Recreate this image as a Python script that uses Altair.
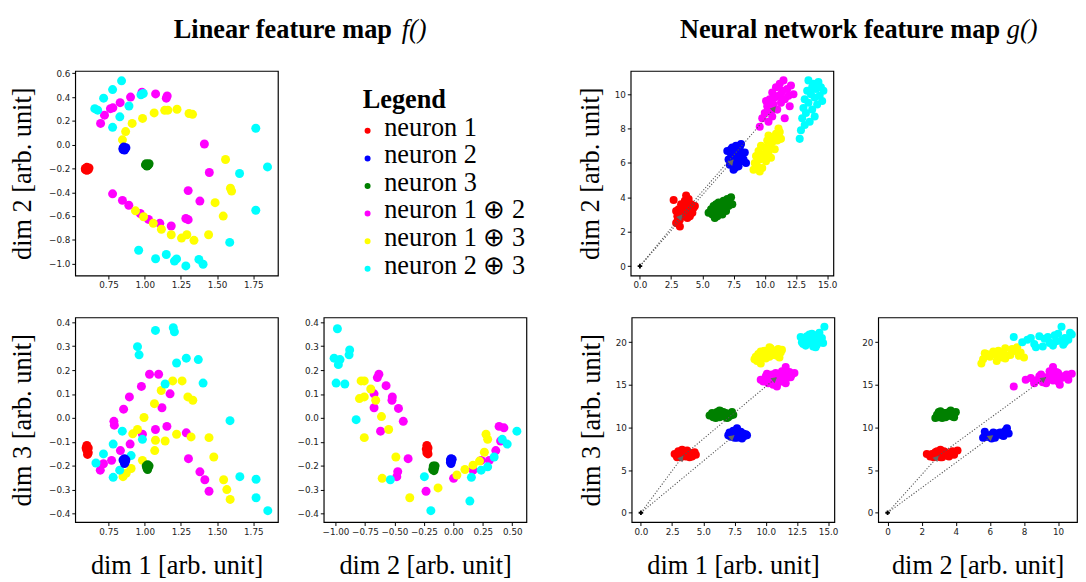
import math
import altair as alt
import pandas as pd

GROUPS = ["neuron 1", "neuron 2", "neuron 3", "neuron 1 ⊕ 2", "neuron 1 ⊕ 3", "neuron 2 ⊕ 3"]
COLORS = ["#ff0000", "#0000ff", "#008000", "#ff00ff", "#ffff00", "#00ffff"]

# ---------------- Linear feature map f(): dim 1 vs dim 2 ----------------
lin12_n1 = [(0.59, -0.20), (0.61, -0.21), (0.60, -0.19), (0.615, -0.195), (0.60, -0.215), (0.59, -0.21)]
lin12_n2 = [(0.85, -0.03), (0.865, -0.035), (0.855, -0.02), (0.86, -0.045), (0.87, -0.025), (0.85, -0.04)]
lin12_n3 = [(1.01, -0.16), (1.025, -0.17), (1.015, -0.18), (1.03, -0.16), (1.02, -0.175), (1.005, -0.17)]
lin12_n12 = [(0.695, 0.179), (0.722, 0.248), (0.763, 0.303), (0.78, 0.31), (0.830, 0.353), (0.902, 0.400),
             (0.981, 0.441), (1.075, 0.427), (1.149, 0.391), (1.155, 0.41), (1.412, 0.006), (1.446, -0.234),
             (1.300, -0.386), (1.381, -0.474), (1.284, -0.620), (1.30, -0.63), (0.778, -0.413), (0.846, -0.468),
             (0.890, -0.509), (0.969, -0.578), (1.026, -0.628), (1.104, -0.661), (1.183, -0.683)]
lin12_n13 = [(0.846, 0.041), (0.868, 0.110), (0.913, 0.179), (0.985, 0.221), (1.065, 0.267), (1.138, 0.289),
             (1.16, 0.29), (1.223, 0.298), (1.306, 0.262), (1.33, 0.255), (1.558, -0.124), (1.592, -0.366),
             (1.60, -0.39), (1.486, -0.487), (1.542, -0.600), (1.441, -0.757), (1.340, -0.804), (1.291, -0.757),
             (1.254, -0.785), (1.183, -0.757), (1.115, -0.711), (1.059, -0.661), (0.992, -0.606), (0.936, -0.556)]
lin12_n23 = [(0.84, 0.537), (0.778, 0.463), (0.716, 0.391), (0.655, 0.303), (0.675, 0.29), (0.778, 0.146),
             (0.828, 0.234), (0.891, 0.325), (0.974, 0.419), (0.99, 0.43), (1.767, 0.138), (1.848, -0.187),
             (1.655, -0.242), (1.767, -0.551), (1.587, -0.821), (0.958, -0.887), (1.075, -0.959), (1.149, -0.923),
             (1.205, -0.978), (1.22, -0.96), (1.284, -1.019), (1.374, -0.964), (1.403, -1.005)]

# ---------------- Linear feature map f(): dim 1 vs dim 3 ----------------
lin13_n1 = [(0.60, -0.115), (0.61, -0.125), (0.60, -0.135), (0.61, -0.145), (0.605, -0.152), (0.595, -0.125)]
lin13_n2 = [(0.86, -0.17), (0.865, -0.185), (0.855, -0.18), (0.87, -0.175), (0.86, -0.19), (0.85, -0.175)]
lin13_n3 = [(1.01, -0.20), (1.025, -0.205), (1.02, -0.215), (1.03, -0.20), (1.015, -0.21), (1.02, -0.195)]
lin13_n12 = [(1.033, 0.183), (1.096, 0.183), (0.977, 0.132), (0.894, 0.088), (0.854, 0.037), (0.787, -0.014),
             (0.79, -0.03), (1.175, 0.101), (1.119, 0.043), (1.153, -0.035), (1.074, -0.048), (0.984, -0.068),
             (1.287, -0.062), (0.899, -0.109), (0.832, -0.136), (0.771, -0.177), (0.715, -0.191), (0.693, -0.218),
             (1.302, -0.170), (1.381, -0.225), (1.415, -0.258), (1.444, -0.306)]
lin13_n13 = [(1.193, 0.155), (1.258, 0.155), (1.114, 0.115), (1.067, 0.060), (1.298, 0.088), (1.332, 0.074),
             (0.995, 0.002), (0.950, -0.048), (0.917, -0.066), (1.220, -0.068), (1.320, -0.079), (1.074, -0.093),
             (1.141, -0.096), (1.444, -0.082), (1.069, -0.136), (1.477, -0.163), (0.984, -0.177), (0.906, -0.211),
             (0.872, -0.231), (0.850, -0.245), (1.545, -0.258), (1.567, -0.299), (1.590, -0.340)]
lin13_n23 = [(1.074, 0.366), (1.197, 0.377), (1.205, 0.36), (0.950, 0.298), (0.961, 0.264), (1.220, 0.230),
             (1.287, 0.250), (1.370, 0.244), (1.403, 0.146), (1.141, 0.142), (1.589, -0.011), (0.845, -0.055),
             (0.984, -0.089), (0.782, -0.109), (0.715, -0.150), (0.663, -0.188), (0.782, -0.248), (0.827, -0.218),
             (0.906, -0.157), (1.657, -0.245), (1.769, -0.256), (1.769, -0.333), (1.850, -0.387)]

# ---------------- Linear feature map f(): dim 2 vs dim 3 ----------------
lin23_n1 = [(-0.225, -0.115), (-0.215, -0.125), (-0.22, -0.14), (-0.215, -0.15), (-0.225, -0.145), (-0.23, -0.13)]
lin23_n2 = [(-0.02, -0.17), (-0.025, -0.185), (-0.015, -0.18), (-0.02, -0.19), (-0.025, -0.175), (-0.01, -0.172)]
lin23_n3 = [(-0.17, -0.20), (-0.16, -0.21), (-0.175, -0.215), (-0.165, -0.22), (-0.17, -0.205), (-0.155, -0.2)]
lin23_n12 = [(-0.632, 0.183), (-0.645, 0.169), (-0.571, 0.135), (-0.518, 0.088), (-0.521, 0.074), (-0.466, 0.040),
             (-0.425, -0.014), (-0.673, 0.101), (-0.673, 0.043), (-0.618, -0.055), (-0.384, -0.170), (-0.472, -0.224),
             (-0.480, -0.245), (-0.232, -0.306), (0.002, -0.252), (0.167, -0.218), (0.236, -0.177), (0.305, -0.177),
             (0.360, -0.136), (0.388, -0.035), (0.429, -0.041), (0.401, -0.096)]
lin23_n13 = [(-0.783, 0.155), (-0.756, 0.155), (-0.701, 0.121), (-0.797, 0.081), (-0.756, 0.088), (-0.659, 0.074),
             (-0.610, 0.006), (-0.756, -0.082), (-0.549, -0.048), (-0.488, -0.163), (-0.604, -0.252), (-0.370, -0.333),
             (-0.130, -0.292), (0.030, -0.238), (0.098, -0.215), (0.167, -0.197), (0.222, -0.180), (0.263, -0.143),
             (0.277, -0.068), (0.291, -0.089)]
lin23_n23 = [(-0.984, 0.373), (-0.880, 0.284), (-0.885, 0.264), (-1.012, 0.250), (-0.962, 0.244), (-0.976, 0.223),
             (-0.995, 0.146), (-0.921, 0.142), (-0.825, -0.007), (-0.535, -0.258), (-0.246, -0.245), (-0.191, -0.387),
             (0.140, -0.347), (0.153, -0.248), (0.236, -0.218), (0.291, -0.204), (0.346, -0.163), (0.415, -0.089),
             (0.457, -0.109), (0.539, -0.055)]

# ---------------- Neural network feature map g(): (dim 1, dim 2, dim 3) ----------------
nn_n1 = [(2.7, 3.85, 6.9), (2.9, 2.5, 6.6), (3.0, 2.9, 7.2), (3.1, 3.3, 6.8), (3.2, 2.7, 6.5), (3.3, 3.1, 7.4),
         (3.3, 3.6, 6.9), (3.4, 2.9, 6.7), (3.5, 3.4, 7.0), (3.6, 3.0, 6.6), (3.6, 3.8, 7.2), (3.7, 3.2, 6.9),
         (3.8, 3.5, 6.7), (3.8, 2.8, 7.1), (3.9, 3.9, 6.8), (4.0, 3.3, 7.0), (4.1, 3.6, 6.6), (4.2, 3.1, 6.9),
         (4.3, 3.4, 7.1), (4.4, 3.5, 6.8), (3.2, 2.3, 6.9), (3.7, 4.1, 7.3), (2.9, 3.2, 6.5), (4.0, 2.9, 6.7),
         (3.4, 3.3, 7.2), (3.0, 2.6, 6.9), (3.9, 3.1, 6.5)]
nn_n2 = [(7.0, 6.7, 9.1), (7.1, 6.2, 9.4), (7.2, 5.9, 8.9), (7.3, 6.5, 9.2), (7.4, 6.9, 9.6), (7.5, 6.1, 9.0),
         (7.5, 5.6, 8.8), (7.6, 6.4, 9.3), (7.7, 7.0, 9.9), (7.8, 6.0, 9.1), (7.8, 6.6, 9.4), (7.9, 5.8, 8.9),
         (8.0, 6.3, 9.2), (8.0, 6.9, 9.5), (8.1, 6.1, 8.7), (8.2, 6.5, 9.3), (8.3, 6.2, 9.0), (8.4, 6.6, 9.2),
         (8.5, 6.0, 9.1), (7.3, 6.8, 9.0), (7.6, 5.7, 9.5), (8.1, 7.1, 9.3), (7.7, 6.3, 8.8)]
nn_n3 = [(5.5, 3.1, 11.4), (5.7, 3.3, 11.7), (5.8, 3.0, 11.2), (5.9, 3.5, 11.6), (6.0, 3.2, 11.3), (6.1, 3.6, 11.8),
         (6.2, 2.9, 11.5), (6.3, 3.4, 11.2), (6.4, 3.1, 11.9), (6.5, 3.6, 11.4), (6.6, 3.3, 11.6), (6.7, 3.8, 11.3),
         (6.8, 3.4, 11.7), (6.9, 3.6, 11.5), (7.0, 3.9, 11.2), (7.1, 3.5, 11.6), (7.2, 3.7, 11.4), (7.3, 4.0, 11.8),
         (7.4, 3.6, 11.5), (6.0, 2.8, 11.1), (6.3, 3.7, 12.0), (6.9, 3.2, 11.1), (6.6, 3.0, 11.8)]
nn_n12 = [(9.6, 8.1, 15.6), (9.8, 8.6, 15.4), (10.0, 8.9, 16.0), (10.2, 9.3, 15.2), (10.3, 8.4, 15.8),
          (10.4, 9.7, 15.5), (10.5, 9.0, 16.2), (10.6, 10.1, 15.0), (10.7, 9.4, 15.7), (10.8, 9.8, 16.4),
          (10.9, 10.4, 15.9), (11.0, 9.1, 15.3), (11.1, 9.9, 16.1), (11.2, 10.6, 15.6), (11.3, 9.5, 16.6),
          (11.4, 10.2, 15.8), (11.5, 10.8, 16.3), (11.6, 9.7, 17.1), (11.8, 10.3, 16.0), (11.9, 9.9, 16.5),
          (12.1, 10.5, 16.2), (12.3, 10.0, 16.4), (10.9, 7.4, 14.8), (11.6, 8.6, 15.2), (12.0, 9.3, 15.9),
          (10.1, 9.6, 16.3), (10.6, 8.7, 15.5), (11.3, 10.0, 15.4)]
nn_n13 = [(9.1, 5.6, 18.0), (9.2, 6.0, 18.3), (9.3, 6.4, 17.8), (9.4, 5.8, 18.6), (9.5, 6.7, 18.2), (9.6, 6.2, 18.9),
          (9.7, 7.0, 18.4), (9.8, 5.7, 18.7), (9.9, 6.5, 19.0), (10.0, 6.9, 18.1), (10.1, 6.1, 18.6),
          (10.2, 7.3, 18.9), (10.3, 6.6, 18.3), (10.4, 6.9, 19.3), (10.5, 6.3, 18.8), (10.6, 7.2, 18.5),
          (10.7, 7.5, 19.0), (10.8, 6.8, 18.7), (10.9, 7.7, 18.4), (11.0, 7.3, 19.2), (11.2, 7.8, 18.8),
          (11.3, 7.4, 19.1), (9.6, 5.5, 17.5), (10.3, 7.6, 19.4), (11.1, 8.0, 18.2), (10.0, 6.4, 18.5)]
nn_n23 = [(12.8, 7.4, 20.6), (12.9, 7.9, 20.0), (13.0, 8.6, 19.8), (13.1, 9.2, 20.4), (13.2, 9.7, 19.6),
          (13.3, 8.9, 20.7), (13.4, 10.2, 20.2), (13.5, 9.5, 19.9), (13.6, 8.4, 20.5), (13.7, 10.0, 21.0),
          (13.8, 9.1, 19.5), (13.9, 10.6, 20.3), (14.0, 9.8, 20.8), (14.1, 10.3, 19.7), (14.2, 9.4, 20.6),
          (14.3, 10.7, 21.1), (14.4, 9.9, 20.1), (14.5, 10.4, 20.5), (14.7, 10.2, 21.8), (13.5, 10.8, 20.9),
          (14.0, 8.7, 19.4), (13.2, 8.2, 20.3), (14.6, 9.6, 19.9), (13.8, 10.4, 20.0)]

# vector-addition arrows (start -> end) in (dim 1, dim 2, dim 3)
arrow_start = [(0.0, 0.0, 0.0), (0.0, 0.0, 0.0), (3.4, 3.0, 6.7)]
arrow_end = [(3.4, 3.0, 6.7), (7.5, 6.2, 9.1), (10.9, 9.3, 15.9)]

TITLE_LEFT = "Linear feature map"
TITLE_RIGHT = "Neural network feature map"
LEGEND_TITLE = "Legend"
AXIS_TITLE = "[arb. unit]"

SERIF = "Liberation Serif"


def table2d(pairs):
    rows = []
    for g, pts in pairs:
        for x, y in pts:
            rows.append({"x": x, "y": y, "g": g})
    return pd.DataFrame(rows)


def table3d(i, j):
    rows = []
    for g, pts in zip(GROUPS, [nn_n1, nn_n2, nn_n3, nn_n12, nn_n13, nn_n23]):
        for p in pts:
            rows.append({"x": p[i], "y": p[j], "g": g})
    return pd.DataFrame(rows)


def text_layer(t, x, y, **kw):
    return alt.Chart(pd.DataFrame({"t": [t]})).mark_text(**kw).encode(
        x=alt.value(x), y=alt.value(y), text="t:N")


def panel(df, xdom, ydom, xticks, yticks, xfmt, yfmt, xtitle, ytitle, ytpad, w, h, size, arrows=None, extra=()):
    xa = dict(values=xticks, format=xfmt, labelFlush=False, labelOverlap=False, titlePadding=17, title=xtitle)
    ya = dict(values=yticks, format=yfmt, labelFlush=False, labelOverlap=False, titlePadding=ytpad, title=ytitle)
    X = alt.X("x:Q", scale=alt.Scale(domain=xdom, nice=False, zero=False), axis=alt.Axis(**xa))
    Y = alt.Y("y:Q", scale=alt.Scale(domain=ydom, nice=False, zero=False), axis=alt.Axis(**ya))
    pts = alt.Chart(df).mark_circle(size=size, opacity=1).encode(
        x=X, y=Y,
        color=alt.Color("g:N", scale=alt.Scale(domain=GROUPS, range=COLORS), legend=None))
    layers = [pts]
    if arrows is not None:
        i, j = arrows
        sx = w / (xdom[1] - xdom[0])
        sy = h / (ydom[1] - ydom[0])
        rows, heads = [], []
        for s, e in zip(arrow_start, arrow_end):
            x0, y0, x1, y1 = s[i], s[j], e[i], e[j]
            dxp, dyp = (x1 - x0) * sx, (y1 - y0) * sy
            L = math.hypot(dxp, dyp)
            ang = math.degrees(math.atan2(dxp, dyp)) % 360
            back = 3.0
            rows.append({"x": x0, "y": y0, "x2": x1, "y2": y1})
            heads.append({"x": x1 - dxp / L * back / sx, "y": y1 - dyp / L * back / sy, "ang": ang})
        layers.append(alt.Chart(pd.DataFrame(rows)).mark_rule(
            color="#555555", strokeWidth=1.1, strokeDash=[1.2, 1.8]).encode(x=X, y=Y, x2="x2:Q", y2="y2:Q"))
        layers.append(alt.Chart(pd.DataFrame(heads)).mark_point(
            shape="triangle-up", filled=True, color="#666666", size=45, opacity=1).encode(
            x=X, y=Y, angle=alt.Angle("ang:Q", scale=None)))
        layers.append(alt.Chart(pd.DataFrame({"x": [0.0], "y": [0.0]})).mark_point(
            shape="cross", filled=True, color="black", size=22, opacity=1).encode(x=X, y=Y))
    layers.extend(extra)
    return alt.layer(*layers).properties(width=w, height=h)


def left_pairs(n1, n2, n3, n12, n13, n23):
    return [(GROUPS[3], n12), (GROUPS[4], n13), (GROUPS[5], n23),
            (GROUPS[0], n1), (GROUPS[1], n2), (GROUPS[2], n3)]


TITLE_Y = -34

# legend and headings (drawn as text in the top-left / top-right panels)
legend_layers = [text_layer(LEGEND_TITLE, 295, 38, align="left", baseline="alphabetic", font=SERIF,
                            fontSize=27, fontWeight="bold", color="black")]
for k, (g, c) in enumerate(zip(GROUPS, COLORS)):
    yy = 61.5 + 28.3 * k
    legend_layers.append(alt.Chart(pd.DataFrame({"t": [g]})).mark_circle(size=38, opacity=1, color=c).encode(
        x=alt.value(300), y=alt.value(yy)))
    legend_layers.append(text_layer(g, 317, yy + 5, align="left", baseline="alphabetic", font=SERIF,
                                    fontSize=27, color="black"))
legend_layers.append(text_layer(TITLE_LEFT, 325, TITLE_Y, align="right", baseline="alphabetic", font=SERIF,
                                fontSize=27, fontWeight="bold", color="black"))
legend_layers.append(text_layer("f()", 335, TITLE_Y, align="left", baseline="alphabetic", font=SERIF,
                                fontSize=27, fontStyle="italic", color="black"))

right_title = [
    text_layer(TITLE_RIGHT, 379, TITLE_Y, align="right", baseline="alphabetic", font=SERIF,
               fontSize=27, fontWeight="bold", color="black"),
    text_layer("g()", 386, TITLE_Y, align="left", baseline="alphabetic", font=SERIF,
               fontSize=27, fontStyle="italic", color="black"),
]

W, H = 208, 210
LIN_D1 = [0.52, 1.92]
LIN_D2 = [-1.1, 0.62]
LIN_D3 = [-0.435, 0.42]
NN_D1 = [-0.74, 15.5]
NN_D2 = [-0.55, 11.35]
NN_D3 = [-1.1, 22.9]

t_lin_d1 = [0.75, 1.0, 1.25, 1.5, 1.75]
t_lin_d2x = [-1.0, -0.75, -0.5, -0.25, 0.0, 0.25, 0.5]
t_lin_d2y = [-1.0, -0.8, -0.6, -0.4, -0.2, 0.0, 0.2, 0.4, 0.6]
t_lin_d3 = [-0.4, -0.3, -0.2, -0.1, 0.0, 0.1, 0.2, 0.3, 0.4]
t_nn_d1 = [0.0, 2.5, 5.0, 7.5, 10.0, 12.5, 15.0]
t_nn_d2 = [0, 2, 4, 6, 8, 10]
t_nn_d3 = [0, 5, 10, 15, 20]

LSIZE = 85
RSIZE = 68

TL = panel(table2d(left_pairs(lin12_n1, lin12_n2, lin12_n3, lin12_n12, lin12_n13, lin12_n23)),
           LIN_D1, LIN_D2, t_lin_d1, t_lin_d2y, ".2f", ".1f", None, "dim 2 " + AXIS_TITLE, 13, W, H, LSIZE,
           extra=legend_layers)
BL1 = panel(table2d(left_pairs(lin13_n1, lin13_n2, lin13_n3, lin13_n12, lin13_n13, lin13_n23)),
            LIN_D1, LIN_D3, t_lin_d1, t_lin_d3, ".2f", ".1f", "dim 1 " + AXIS_TITLE, "dim 3 " + AXIS_TITLE,
            13, W, H, LSIZE)
BL2 = panel(table2d(left_pairs(lin23_n1, lin23_n2, lin23_n3, lin23_n12, lin23_n13, lin23_n23)),
            LIN_D2, LIN_D3, t_lin_d2x, t_lin_d3, ".2f", ".1f", "dim 2 " + AXIS_TITLE, None, 10, W, H, LSIZE)
TR = panel(table3d(0, 1), NN_D1, NN_D2, t_nn_d1, t_nn_d2, ".1f", "d", None, "dim 2 " + AXIS_TITLE,
           10, W, H, RSIZE, arrows=(0, 1), extra=right_title)
BR1 = panel(table3d(0, 2), NN_D1, NN_D3, t_nn_d1, t_nn_d3, ".1f", "d", "dim 1 " + AXIS_TITLE,
            "dim 3 " + AXIS_TITLE, 10, W, H, RSIZE, arrows=(0, 2))
BR2 = panel(table3d(1, 2), [-0.55, 11.11], NN_D3, [0, 2, 4, 6, 8, 10], t_nn_d3, "d", "d",
            "dim 2 " + AXIS_TITLE, None, 10, 204, H, RSIZE, arrows=(1, 2))

top_row = alt.hconcat(TL, TR, spacing=51)
bottom_row = alt.hconcat(alt.hconcat(BL1, BL2, spacing=18), alt.hconcat(BR1, BR2, spacing=22), spacing=51)

chart = alt.vconcat(top_row, bottom_row, spacing=26).properties(
    padding=0, background="white"
).configure_view(
    stroke="black", strokeWidth=1.2
).configure_axis(
    domain=False, grid=False, ticks=True, tickColor="black", tickSize=3.5, tickWidth=1,
    labelFont="DejaVu Sans", labelFontSize=9, labelColor="#222222", labelPadding=2,
    titleFont=SERIF, titleFontSize=27, titleFontWeight="normal", titleColor="black"
)

chart.save("out.html", embed_options={"renderer": "svg", "actions": False})
